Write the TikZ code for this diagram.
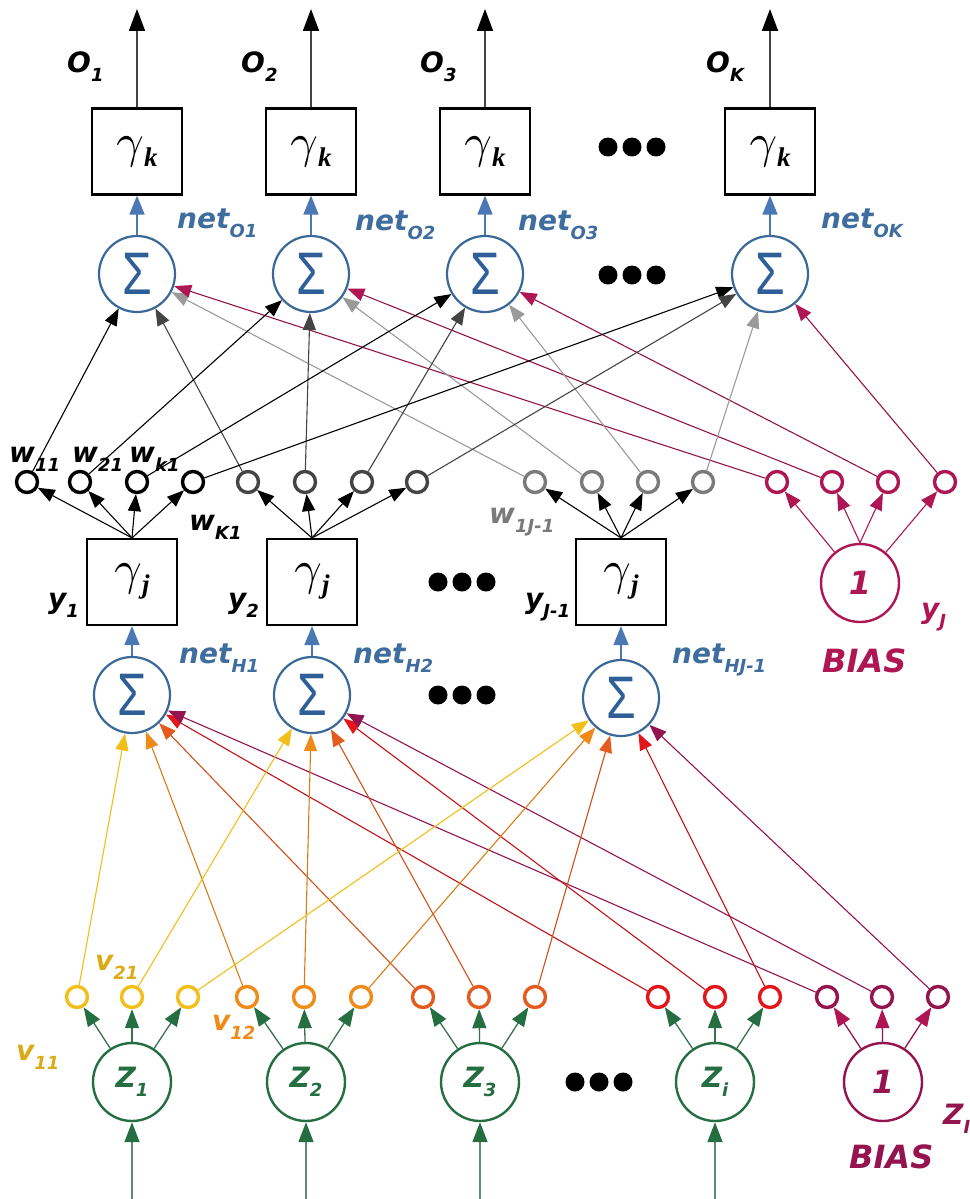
\documentclass[tikz,border=0pt]{standalone}
\usepackage{fontspec}
\usetikzlibrary{arrows.meta}
\newfontfamily\lbl{DejaVu Sans}[BoldItalicFont={DejaVu Sans Bold Oblique}]
\newfontfamily\gfont{Liberation Serif}
\newfontfamily\sigfont{Liberation Sans}
\definecolor{sumblue}{HTML}{3A6898}
\definecolor{sigcol}{HTML}{2E5F98}
\definecolor{netcol}{HTML}{3F6E9E}
\definecolor{bluearr}{HTML}{4A78B5}
\definecolor{zgreen}{HTML}{256E42}
\definecolor{inline}{HTML}{5E8A72}
\definecolor{crim}{HTML}{AE1654}
\definecolor{crimb}{HTML}{93144E}
\definecolor{cyel}{HTML}{F2BE1A}
\definecolor{cora}{HTML}{F08A19}
\definecolor{cdor}{HTML}{E55A1E}
\definecolor{cred}{HTML}{E3161B}
\definecolor{dgray}{HTML}{444444}
\definecolor{mgray}{HTML}{7A7A7A}
\definecolor{lgray}{HTML}{9A9A9A}
\pgfdeclarelayer{bg}
\pgfsetlayers{bg,main}
\newcommand\lab[3][black]{{\color{#1}\lbl\bfseries\itshape\fontsize{28}{28}\selectfont #2\raisebox{-9pt}{\fontsize{18}{18}\selectfont #3}}}
\newcommand\gam[1]{\scalebox{4.8}{$\gamma$}\raisebox{-9pt}{\gfont\bfseries\itshape\fontsize{27}{27}\selectfont #1}}
\newcommand\sig{{\sigfont\fontsize{60}{60}\selectfont\color{sigcol}\scalebox{0.8}[1]{Σ}}}
\begin{document}
\begin{tikzpicture}[x=1pt,y=-1pt,
  gbox/.style={draw=black, line width=2.2pt, minimum width=90pt, minimum height=86pt, inner sep=0pt, fill=white},
  sumc/.style={circle, draw=sumblue, line width=2.2pt, minimum size=76pt, inner sep=0pt, fill=white},
  wc/.style={circle, draw=#1, line width=3.4pt, minimum size=21pt, inner sep=0pt, fill=white},
  bigc/.style={circle, draw=#1, line width=2.4pt, minimum size=78pt, inner sep=0pt, fill=white},
  conn/.style 2 args={draw=#1, line width=1.1pt, -{Triangle[length=17pt,width=13pt,color=#2]}},
  bconn/.style={draw=bluearr, line width=1.6pt, -{Triangle[length=19pt,width=15pt]}},
  oconn/.style={draw=dgray, line width=1.8pt, -{Triangle[length=22pt,width=16pt,color=black]}},
  iconn/.style={draw=inline, line width=1.8pt, -{Triangle[length=20pt,width=15pt,color=zgreen]}},
  gconn/.style={draw=zgreen!80!gray, line width=1.3pt, -{Triangle[length=19pt,width=14pt,color=zgreen]}},
  dot/.style={circle, fill=black, inner sep=0pt, minimum size=19pt},
  lb/.style={anchor=base west, inner sep=0pt}
]
\useasboundingbox (0,0) rectangle (969,1199);

% ---------- output layer ----------
\foreach \n/\x in {1/137,2/311,3/485,K/770}{
  \node[gbox] (ob\n) at (\x,151.5) {\gam{k}};
  \node[sumc] (os\n) at (\x,274) {\sig};
  \coordinate (ot\n) at (\x,9);
}
\node[lb] (lo1) at (67,73) {\lab{O}{1}};
\node[lb] (lo2) at (241,73) {\lab{O}{2}};
\node[lb] (lo3) at (420,73) {\lab{O}{3}};
\node[lb] (loK) at (706,73) {\lab{O}{K}};
\node[lb] (no1) at (177,228) {\lab[netcol]{net}{O1}};
\node[lb] (no2) at (355,230) {\lab[netcol]{net}{O2}};
\node[lb] (no3) at (518,230) {\lab[netcol]{net}{O3}};
\node[lb] (noK) at (821,228) {\lab[netcol]{net}{OK}};
\foreach \x in {608,632,656}{ \node[dot] at (\x,147) {}; \node[dot] at (\x,275) {}; }

% ---------- hidden layer ----------
\foreach \n/\x/\y in {1/132/695,2/312/695,J/621/698}{
  \node[gbox] (hb\n) at (\x,582) {\gam{j}};
  \node[sumc] (hs\n) at (\x,\y) {\sig};
}
\foreach \i/\x in {1/27,2/80,3/137,4/193}{\node[wc=black] (wa\i) at (\x,482) {};}
\foreach \i/\x in {1/248,2/305,3/362,4/417}{\node[wc=dgray] (wb\i) at (\x,482) {};}
\foreach \i/\x in {1/535,2/592,3/648,4/703}{\node[wc=mgray] (wc\i) at (\x,482) {};}
\foreach \i/\x in {1/777,2/832,3/888,4/945}{\node[wc=crim] (wd\i) at (\x,482) {};}
\node[bigc=crim] (hbias) at (860,583) {\lbl\bfseries\itshape\fontsize{32}{32}\selectfont\color{crim}1};
\node[lb] (ly1) at (48,608) {\lab{y}{1}};
\node[lb] (ly2) at (228,608) {\lab{y}{2}};
\node[lb] (lyJ1) at (525,608) {\lab{y}{J-1}};
\node[lb] (lyJ) at (921,618) {\lab[crim]{y}{J}};
\node[lb] (lbias1) at (822,672) {{\color{crim}\lbl\bfseries\itshape\fontsize{32}{32}\selectfont BIAS}};
\node[lb] (nh1) at (179,663) {\lab[netcol]{net}{H1}};
\node[lb] (nh2) at (353,663) {\lab[netcol]{net}{H2}};
\node[lb] (nhJ) at (672,663) {\lab[netcol]{net}{HJ-1}};
\node[lb] (lw11) at (9,462) {\lab{w}{11}};
\node[lb] (lw21) at (72,462) {\lab{w}{21}};
\node[lb] (lwk1) at (129,462) {\lab{w}{k1}};
\node[lb] (lwK1) at (189,530) {\lab{w}{K1}};
\node[lb] (lw1J) at (489,523) {\lab[mgray]{w}{1J-1}};
\foreach \x in {438,462,486}{ \node[dot] at (\x,582) {}; \node[dot] at (\x,695) {}; }

% ---------- input layer ----------
\foreach \i/\x in {1/77,2/132,3/188}{\node[wc=cyel] (va\i) at (\x,997) {};}
\foreach \i/\x in {1/247,2/304,3/361}{\node[wc=cora] (vb\i) at (\x,997) {};}
\foreach \i/\x in {1/423,2/479,3/535}{\node[wc=cdor] (vc\i) at (\x,997) {};}
\foreach \i/\x in {1/658,2/715,3/770}{\node[wc=cred] (vd\i) at (\x,997) {};}
\foreach \i/\x in {1/827,2/882,3/938}{\node[wc=crimb] (ve\i) at (\x,997) {};}
\foreach \n/\x/\s in {1/132/1,2/306/2,3/480/3,i/715/i}{
  \node[bigc=zgreen] (z\n) at (\x,1082) {\lab[zgreen]{Z}{\s}};
  \coordinate (zin\n) at (\x,1199);
}
\node[bigc=crimb] (zbias) at (883,1082) {\lbl\bfseries\itshape\fontsize{32}{32}\selectfont\color{crimb}1};
\node[lb] (lzI) at (943,1124) {\lab[crimb]{Z}{I}};
\node[lb] (lbias2) at (849,1168) {{\color{crimb}\lbl\bfseries\itshape\fontsize{32}{32}\selectfont BIAS}};
\node[lb] (lv11) at (16,1060) {\lab[cyel!90!black]{v}{11}};
\node[lb] (lv21) at (95,970) {\lab[cyel!90!black]{v}{21}};
\node[lb] (lv12) at (212,1030) {\lab[cora]{v}{12}};
\foreach \x in {575,599,623}{ \node[dot] at (\x,1082) {}; }

% ---------- connectors ----------
\begin{pgfonlayer}{bg}
\foreach \n in {1,2,3,K}{
  \draw[oconn] (ob\n) -- (ot\n);
  \draw[bconn] (os\n) -- (ob\n);
}
\foreach \n in {1,2,J}{ \draw[bconn] (hs\n) -- (hb\n); }
% hidden boxes to weight circles
\foreach \i in {1,2,3,4}{
  \draw[conn={black}{black}] (hb1.north) -- (wa\i);
  \draw[conn={black}{black}] (hb2.north) -- (wb\i);
  \draw[conn={black}{black}] (hbJ.north) -- (wc\i);
}
\draw[conn={crim}{crim}] (hbias) -- (wd1);
\draw[conn={crim}{crim}] (hbias.north) -- (wd2);
\draw[conn={crim}{crim}] (hbias.north) -- (wd3);
\draw[conn={crim}{crim}] (hbias) -- (wd4);
% weight circles to output sums
\foreach \i/\n in {1/1,2/2,3/3,4/K}{
  \draw[conn={black}{black}] (wa\i) -- (os\n);
  \draw[conn={dgray}{dgray}] (wb\i) -- (os\n);
  \draw[conn={lgray}{lgray}] (wc\i) -- (os\n);
  \draw[conn={crim!85!black}{crim}] (wd\i) -- (os\n);
}
% input layer
\foreach \n in {1,2,3,i}{ \draw[iconn] (zin\n) -- (z\n); }
\foreach \i in {1,2,3}{
  \draw[gconn] (z1) -- (va\i);
  \draw[gconn] (z2) -- (vb\i);
  \draw[gconn] (z3) -- (vc\i);
  \draw[gconn] (zi) -- (vd\i);
  \draw[draw=crimb, line width=1.3pt, -{Triangle[length=19pt,width=14pt,color=crim]}] (zbias) -- (ve\i);
}
\foreach \i/\n in {1/1,2/2,3/J}{
  \draw[conn={cyel}{cyel}] (va\i) -- (hs\n);
  \draw[conn={cora!90!black}{cora}] (vb\i) -- (hs\n);
  \draw[conn={cdor!90!black}{cdor}] (vc\i) -- (hs\n);
  \draw[conn={cred!85!black}{cred}] (vd\i) -- (hs\n);
  \draw[conn={crimb}{crimb}] (ve\i) -- (hs\n);
}
\end{pgfonlayer}
\end{tikzpicture}
\end{document}
